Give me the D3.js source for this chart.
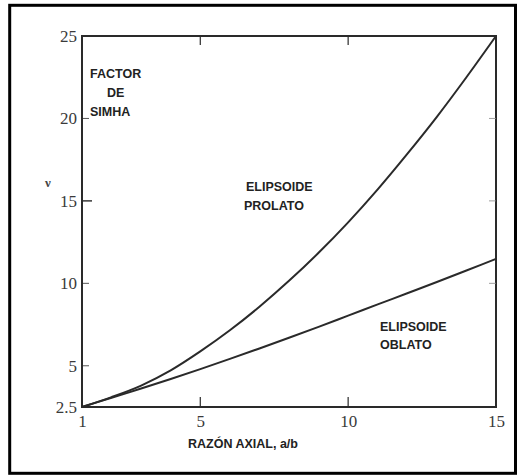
<!DOCTYPE html>
<html>
<head>
<meta charset="utf-8">
<script src="https://cdn.jsdelivr.net/npm/d3@7"></script>
<style>
  html, body { margin: 0; padding: 0; background: #fff; }
  svg { display: block; }
  .lbl { font-family: "Liberation Sans", Arial, sans-serif; font-weight: bold; font-size: 12.5px; fill: #222; }
  .tick text { font-family: "Liberation Serif", "Times New Roman", serif; font-size: 17px; fill: #3a3a3a; }
</style>
</head>
<body>
<svg id="chart" width="524" height="476"></svg>
<script>
// Axial ratio a/b
const axialRatio = [1, 2, 3, 4, 5, 6, 7, 8, 9, 10, 11, 12, 13, 14, 15];
// Simha factor, prolate ellipsoid
const prolate = [2.5, 3.1, 3.8, 4.72, 5.87, 7.15, 8.58, 10.15, 11.85, 13.7, 15.7, 17.85, 20.1, 22.5, 25];
// Simha factor, oblate ellipsoid
const oblate = [2.5, 3.06, 3.62, 4.2, 4.8, 5.42, 6.05, 6.7, 7.36, 8.04, 8.72, 9.4, 10.08, 10.78, 11.48];

const xTicks = [1, 5, 10, 15];
const yTicks = [2.5, 5, 10, 15, 20, 25];
const yTickLabels = ["2.5", "5", "10", "15", "20", "25"];

const svg = d3.select("#chart");
const ink = "#2a2a2a";

// Outer frame
svg.append("rect")
  .attr("x", 9.7).attr("y", 5.3)
  .attr("width", 505.8).attr("height", 468)
  .attr("fill", "none").attr("stroke", "#000").attr("stroke-width", 3);

const plotL = 82, plotR = 496, plotT = 36, plotB = 407;
const x = d3.scaleLinear().domain([1, 15]).range([plotL, plotR]);
const y = d3.scaleLinear().domain([2.5, 25]).range([plotB, plotT]);

// Plot box
svg.append("rect")
  .attr("x", plotL).attr("y", plotT)
  .attr("width", plotR - plotL).attr("height", plotB - plotT)
  .attr("fill", "none").attr("stroke", ink).attr("stroke-width", 2);

// Axes (labels only; tick marks are drawn inward below)
const xAxis = svg.append("g").attr("class", "axis")
  .attr("transform", `translate(0,${plotB})`)
  .call(d3.axisBottom(x).tickValues(xTicks).tickSize(0).tickPadding(8).tickFormat(d3.format("d")));
xAxis.select(".domain").remove();

const yAxis = svg.append("g").attr("class", "axis")
  .attr("transform", `translate(${plotL},0)`)
  .call(d3.axisLeft(y).tickValues(yTicks).tickSize(0).tickPadding(5)
    .tickFormat((d, i) => yTickLabels[i]));
yAxis.select(".domain").remove();

// Inner tick marks
const innerX = [5, 10];
const innerY = [5, 10, 15, 20];
svg.append("g").selectAll("line").data(innerX).join("line")
  .attr("x1", d => x(d)).attr("x2", d => x(d))
  .attr("y1", plotB).attr("y2", plotB - 10)
  .attr("stroke", ink).attr("stroke-width", 1.2);
svg.append("g").selectAll("line").data(innerX).join("line")
  .attr("x1", d => x(d)).attr("x2", d => x(d))
  .attr("y1", plotT).attr("y2", plotT + 9)
  .attr("stroke", ink).attr("stroke-width", 1.2);
svg.append("g").selectAll("line").data(innerY).join("line")
  .attr("x1", plotL).attr("x2", d => plotL + (d === 15 ? 10 : 7))
  .attr("y1", d => y(d)).attr("y2", d => y(d))
  .attr("stroke", ink).attr("stroke-width", d => d === 15 ? 1.4 : 0.8);
svg.append("g").selectAll("line").data([10, 15, 20]).join("line")
  .attr("x1", plotR).attr("x2", plotR - 7)
  .attr("y1", d => y(d)).attr("y2", d => y(d))
  .attr("stroke", "#888").attr("stroke-width", 0.8);

// Curves
const line = d3.line().x(d => x(d[0])).y(d => y(d[1])).curve(d3.curveMonotoneX);
[prolate, oblate].forEach(series => {
  svg.append("path")
    .datum(axialRatio.map((a, i) => [a, series[i]]))
    .attr("d", line)
    .attr("fill", "none").attr("stroke", ink).attr("stroke-width", 2);
});

// Labels
const labels = [
  { t: "FACTOR", x: 90, y: 78 },
  { t: "DE", x: 107, y: 97 },
  { t: "SIMHA", x: 90, y: 116 },
  { t: "ELIPSOIDE", x: 246, y: 191 },
  { t: "PROLATO", x: 244, y: 210 },
  { t: "ELIPSOIDE", x: 380, y: 331 },
  { t: "OBLATO", x: 380, y: 349 },
  { t: "RAZÓN AXIAL, a/b", x: 188, y: 448 }
];
svg.append("g").selectAll("text").data(labels).join("text")
  .attr("class", "lbl")
  .attr("x", d => d.x).attr("y", d => d.y)
  .text(d => d.t);

// Axis symbol
svg.append("text").attr("x", 45).attr("y", 187)
  .attr("font-family", "Liberation Serif, serif").attr("font-size", 13).attr("font-weight", "bold")
  .attr("fill", "#444").text("ν");
</script>
</body>
</html>
